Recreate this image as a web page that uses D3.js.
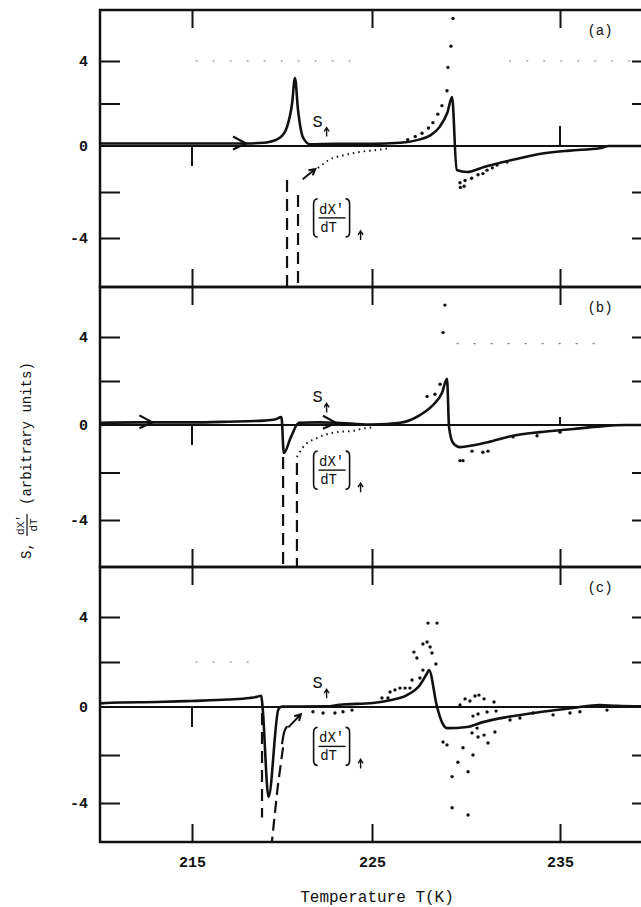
<!DOCTYPE html>
<html>
<head>
<meta charset="utf-8">
<script src="https://cdn.jsdelivr.net/npm/d3@7"></script>
<style>
  body { margin: 0; background: #fff; }
  svg { display: block; }
  text { font-family: "Liberation Mono", "DejaVu Sans Mono", monospace; fill: #111; }
</style>
</head>
<body>
<svg id="chart" width="641" height="907"></svg>
<script>
// Tick values and labels
var xTicks = [215, 225, 235];
var yTicks = [-4, -2, 2, 4];
var yLabels = [4, 0, -4];
var panelNames = ['(a)', '(b)', '(c)'];

// S curves (solid), [T (K), value]
var sA = [[209.5,0.12],[214,0.12],[218,0.12],[219.0,0.15],[219.33,0.2],[219.9,0.4],
          [220.28,0.9],[220.56,2.0],[220.72,3.2],[220.89,1.7],[221.17,0.4],[221.56,0.08],
          [223,0.1],[225,0.1],[226.5,0.15],[227.5,0.3],[228.1,0.5],[228.6,0.9],[229.0,1.55],
          [229.26,2.3],[229.5,-1.04],[230.05,-1.13],[231,-0.9],[232.5,-0.6],[233.9,-0.35],
          [235.5,-0.2],[237.1,-0.1],[237.6,0],[240,0]];
var sB = [[209.5,0.1],[212,0.12],[215,0.12],[217,0.15],[219,0.2],[219.6,0.25],[219.97,0.36],
          [220.1,-1.18],[220.5,-0.5],[220.94,0.1],[222,0.12],[223,0.1],[224,0.05],[225.05,0.02],
          [226.5,0.1],[227.55,0.45],[228.24,0.9],[228.72,1.45],[228.99,2.1],[229.1,-0.1],
          [229.31,-0.75],[229.68,-0.93],[230.4,-0.85],[231.28,-0.7],[232.5,-0.45],[233.94,-0.3],
          [235.7,-0.17],[236.97,-0.07],[238.5,0],[240,0]];
var sC = [[209.6,0.15],[211,0.2],[213,0.22],[215,0.27],[217,0.33],[218.2,0.4],[218.6,0.45],
          [218.85,0.5],[218.92,0.0],[219.25,-3.75],[219.8,-0.1],[220.0,0.02],[221,0.02],
          [222.5,0.03],[223.2,0.1],[225.05,0.18],[225.96,0.3],[226.86,0.53],[227.55,0.98],
          [227.93,1.5],[228.03,1.64],[228.46,0],[228.72,-0.63],[228.99,-0.88],[230.05,-0.83],
          [230.9,-0.63],[232.18,-0.42],[233.94,-0.21],[235.69,-0.04],[237.13,0.09],[238.0,0.05],
          [240,0.02]];

// Arrows sitting on the S curves, [T, value]
var sArrowsA = [[218.0,0.12]];
var sArrowsB = [[212.8,0.12],[223.0,0.1]];
var sArrowsC = [];

// dX'/dT : dashed divergent branches [T, value from, value to]
var dashA = [[220.28,-1.48,-6.5],[220.89,-2.13,-6.5]];
var dashB = [[220.06,-1.35,-6.5],[220.83,-1.6,-6.5]];
var dashC = [[218.89,-0.25,-4.6]];
var slantC = [[219.40,-5.9],[219.75,-3.4],[220.06,-1.67]];

// dX'/dT : dotted continuous parts
var dotLineA = [[222.0,-0.96],[222.6,-0.61],[223.5,-0.39],[224.3,-0.26],[225.3,-0.17],[226.0,-0.09]];
var dotLineB = [[220.83,-1.35],[221.17,-0.93],[221.94,-0.55],[223.06,-0.3],[223.9,-0.25],
                [224.5,-0.15],[225.0,-0.1]];
var hookC = [[220.0,-1.55],[220.12,-0.95],[220.3,-0.8]];

// small arrows on dX'/dT, [T0, v0, T1, v1]
var dArrowsA = [[221.15,-1.45,221.85,-1.0]];
var dArrowsB = [];
var dArrowsC = [[220.35,-0.85,221.05,-0.3]];

// dX'/dT : scattered dots
var dotsA = [[226.9,0.3],[227.3,0.45],[227.66,0.6],[228.0,0.85],[228.24,1.1],[228.5,1.5],
             [228.72,1.9],[228.99,2.6],[229.04,3.7],[229.2,4.7],[229.31,6.0],
             [229.68,-1.6],[229.7,-1.8],[229.9,-1.75],[229.95,-1.5],[230.3,-1.4],[230.64,-1.25],
             [230.9,-1.2],[231.12,-1.05],[231.4,-0.95],[231.65,-0.83],[232.18,-0.7]];
var dotsB = [[227.93,1.3],[228.35,1.4],[228.62,1.85],[228.78,4.2],[228.88,5.45],
             [229.68,-1.5],[229.84,-1.5],[230.32,-1.1],[230.9,-1.15],[231.17,-1.1],
             [232.5,-0.5],[233.78,-0.45],[235.0,-0.3]];
var dotsC = [[221.72,-0.2],[222.28,-0.25],[222.94,-0.25],[223.39,-0.2],[223.89,-0.13],
             [225.53,0.4],[225.85,0.4],[225.96,0.67],[226.22,0.76],[226.49,0.84],[226.76,0.84],
             [227.02,0.84],[227.13,1.2],[227.55,1.29],[227.71,1.64],[227.39,2.18],[227.23,2.44],
             [227.71,2.8],[227.93,2.89],[228.09,2.67],[228.19,2.4],[228.4,1.91],[227.98,3.73],
             [228.46,3.73],
             [229.68,0.09],[229.95,0.36],[230.21,0.27],[230.48,0.49],[230.69,0.53],[230.96,0.36],
             [231.49,0.22],
             [228.78,-1.46],[228.99,-1.58],[229.26,-2.9],[229.57,-2.3],[229.84,-1.7],[230.11,-2.7],
             [229.26,-4.2],[230.11,-4.5],[230.37,-2.0],[230.32,-1.08],[230.59,-0.88],[230.64,-1.25],
             [230.96,-1.17],[231.17,-1.5],[231.54,-1.04],[230.37,-0.38],[230.64,-0.29],
             [231.12,-0.21],[231.6,-0.17],[232.34,-0.54],[232.87,-0.46],[233.56,-0.25],
             [234.63,-0.33],[235.53,-0.25],[236.06,-0.2],[237.5,-0.13]];

// faint dotted remnants in the scan, [T from, T to, value]
var faintA = [[215.2,224.6,4.0],[232.3,239.0,4.0]];
var faintB = [[229.5,237.5,3.7]];
var faintC = [[215.2,218.8,2.0]];

// Panel layout (pixel positions of frame and of the 4 / 0 / -4 levels)
var left = 100, right = 652;
var panels = [
  { name: panelNames[0], top: 10,  bottom: 287, y4: 61,  y0: 146, ym4: 238,
    s: sA, sArrows: sArrowsA, dash: dashA, slant: null, dotLine: dotLineA, hook: null,
    dArrows: dArrowsA, dots: dotsA, faint: faintA, sLabel: [221.7, 1.2], frac: [221.7, -2.3], upTick: 20 },
  { name: panelNames[1], top: 287, bottom: 567, y4: 337, y0: 425, ym4: 520,
    s: sB, sArrows: sArrowsB, dash: dashB, slant: null, dotLine: dotLineB, hook: null,
    dArrows: dArrowsB, dots: dotsB, faint: faintB, sLabel: [221.7, 1.3], frac: [221.7, -1.1], upTick: 8 },
  { name: panelNames[2], top: 567, bottom: 842, y4: 617, y0: 707, ym4: 803,
    s: sC, sArrows: sArrowsC, dash: dashC, slant: slantC, dotLine: null, hook: hookC,
    dArrows: dArrowsC, dots: dotsC, faint: faintC, sLabel: [221.7, 1.1], frac: [221.7, -0.85], upTick: 0 }
];

var svg = d3.select('#chart');
var ink = '#111';

// Temperature scale (the scanned axis is slightly uneven)
var x = d3.scaleLinear().domain(xTicks).range([192, 372, 560]);

// small upward arrow used as subscript
function upArrow(sel, ax, ay) {
  sel.append('path')
     .attr('d', 'M' + ax + ',' + (ay + 9) + 'L' + ax + ',' + ay +
                'M' + (ax - 2.5) + ',' + (ay + 4) + 'L' + ax + ',' + ay + 'L' + (ax + 2.5) + ',' + (ay + 4))
     .attr('fill', 'none').attr('stroke', ink).attr('stroke-width', 1.4);
}

panels.forEach(function(p, i) {
  var y = d3.scaleLinear().domain([-4, 0, 4]).range([p.ym4, p.y0, p.y4]);
  var g = svg.append('g');

  var clipId = 'clip' + i;
  svg.append('clipPath').attr('id', clipId)
     .append('rect').attr('x', left).attr('y', p.top)
     .attr('width', right - left).attr('height', p.bottom - p.top);

  // Ticks: left, right, top, bottom (all pointing inward)
  var yl = d3.axisLeft(y).tickValues(yTicks.concat([0])).tickSizeInner(-20).tickSizeOuter(0)
             .tickPadding(12)
             .tickFormat(function(d) { return yLabels.indexOf(d) != -1 ? d : ''; });
  var gl = g.append('g').attr('transform', 'translate(' + left + ',0)').call(yl);
  gl.selectAll('.tick line').filter(function(d) { return d == 0; }).remove();

  var yr = d3.axisRight(y).tickValues(yTicks).tickSizeInner(-20).tickSizeOuter(0)
             .tickFormat('');
  g.append('g').attr('transform', 'translate(' + right + ',0)').call(yr);

  var xt = d3.axisTop(x).tickValues(xTicks).tickSizeInner(-18).tickSizeOuter(0).tickFormat('');
  g.append('g').attr('transform', 'translate(0,' + p.top + ')').call(xt);

  var xb = d3.axisBottom(x).tickValues(xTicks).tickSizeInner(-18).tickSizeOuter(0)
             .tickPadding(14).tickFormat(i == 2 ? d3.format('d') : '');
  g.append('g').attr('transform', 'translate(0,' + p.bottom + ')').call(xb);

  g.selectAll('.domain').remove();
  g.selectAll('.tick line').attr('stroke', ink).attr('stroke-width', 2);
  g.selectAll('.tick text').attr('font-size', 15).attr('fill', ink).attr('font-weight', 'bold')
   .attr('font-family', '"Liberation Mono", monospace');

  // Frame
  g.append('rect').attr('x', left).attr('y', p.top)
   .attr('width', right - left).attr('height', p.bottom - p.top)
   .attr('fill', 'none').attr('stroke', ink).attr('stroke-width', 2.5);

  // Zero line and its small ticks
  g.append('line').attr('x1', left).attr('x2', right).attr('y1', y(0)).attr('y2', y(0))
   .attr('stroke', ink).attr('stroke-width', 2);
  g.append('line').attr('x1', x(215)).attr('x2', x(215)).attr('y1', y(0)).attr('y2', y(0) + 20)
   .attr('stroke', ink).attr('stroke-width', 2);
  if (p.upTick > 0) {
    g.append('line').attr('x1', x(235)).attr('x2', x(235)).attr('y1', y(0)).attr('y2', y(0) - p.upTick)
     .attr('stroke', ink).attr('stroke-width', 2);
  }

  var plot = g.append('g').attr('clip-path', 'url(#' + clipId + ')');
  var line = d3.line().x(function(d) { return x(d[0]); }).y(function(d) { return y(d[1]); });
  var smooth = d3.line().curve(d3.curveMonotoneX)
                 .x(function(d) { return x(d[0]); }).y(function(d) { return y(d[1]); });

  // Faint dotted remnants
  p.faint.forEach(function(f) {
    plot.append('line').attr('x1', x(f[0])).attr('x2', x(f[1])).attr('y1', y(f[2])).attr('y2', y(f[2]))
        .attr('stroke', '#777').attr('stroke-width', 1.2).attr('stroke-dasharray', '2,15');
  });

  // S curve
  plot.append('path').datum(p.s).attr('d', smooth)
      .attr('fill', 'none').attr('stroke', ink).attr('stroke-width', 2.6)
      .attr('stroke-linejoin', 'round');

  // Arrows on S
  p.sArrows.forEach(function(a) {
    var ax = x(a[0]), ay = y(a[1]);
    plot.append('path')
        .attr('d', 'M' + (ax - 13) + ',' + (ay - 7) + 'L' + ax + ',' + ay + 'L' + (ax - 13) + ',' + (ay + 6))
        .attr('fill', 'none').attr('stroke', ink).attr('stroke-width', 2.2);
  });

  // dX'/dT dashed branches
  p.dash.forEach(function(d) {
    plot.append('line').attr('x1', x(d[0])).attr('x2', x(d[0]))
        .attr('y1', y(d[1])).attr('y2', y(d[2]))
        .attr('stroke', ink).attr('stroke-width', 2.2).attr('stroke-dasharray', '12,7');
  });
  if (p.slant) {
    plot.append('path').datum(p.slant).attr('d', line)
        .attr('fill', 'none').attr('stroke', ink).attr('stroke-width', 2.2)
        .attr('stroke-dasharray', '12,6');
  }
  if (p.hook) {
    plot.append('path').datum(p.hook).attr('d', d3.line().curve(d3.curveBasis)
        .x(function(d) { return x(d[0]); }).y(function(d) { return y(d[1]); }))
        .attr('fill', 'none').attr('stroke', ink).attr('stroke-width', 2.2);
  }
  if (p.dotLine) {
    plot.append('path').datum(p.dotLine).attr('d', smooth)
        .attr('fill', 'none').attr('stroke', ink).attr('stroke-width', 2)
        .attr('stroke-dasharray', '1.5,4');
  }
  p.dArrows.forEach(function(a) {
    var x0 = x(a[0]), y0 = y(a[1]), x1 = x(a[2]), y1 = y(a[3]);
    var ang = Math.atan2(y1 - y0, x1 - x0), h = 7;
    plot.append('path')
        .attr('d', 'M' + x0 + ',' + y0 + 'L' + x1 + ',' + y1 +
                   'M' + (x1 - h * Math.cos(ang - 0.5)) + ',' + (y1 - h * Math.sin(ang - 0.5)) +
                   'L' + x1 + ',' + y1 +
                   'L' + (x1 - h * Math.cos(ang + 0.5)) + ',' + (y1 - h * Math.sin(ang + 0.5)))
        .attr('fill', 'none').attr('stroke', ink).attr('stroke-width', 2);
  });

  // Scattered dX'/dT points
  plot.selectAll('circle.dot').data(p.dots).enter().append('circle')
      .attr('class', 'dot')
      .attr('cx', function(d) { return x(d[0]); })
      .attr('cy', function(d) { return y(d[1]); })
      .attr('r', 1.7).attr('fill', ink);

  // Panel letter
  g.append('text').attr('x', 600).attr('y', p.top + 25).attr('text-anchor', 'middle')
   .attr('font-size', 14).text(p.name);

  // S label
  var sx = x(p.sLabel[0]), sy = y(p.sLabel[1]);
  g.append('text').attr('x', sx).attr('y', sy + 6).attr('font-size', 17).text('S');
  upArrow(g, sx + 14, sy + 7);

  // [dX'/dT] label
  var fx = x(p.frac[0]), fy = y(p.frac[1]);
  var bh = 38, bw = 38;
  var fl = g.append('g').attr('transform', 'translate(' + fx + ',' + fy + ')');
  fl.append('path').attr('d', 'M5,0 Q1,0 1,5 L1,' + (bh - 5) + ' Q1,' + bh + ' 5,' + bh)
    .attr('fill', 'none').attr('stroke', ink).attr('stroke-width', 1.6);
  fl.append('path').attr('d', 'M' + (bw - 5) + ',0 Q' + (bw - 1) + ',0 ' + (bw - 1) + ',5 L' + (bw - 1) + ',' + (bh - 5) +
                              ' Q' + (bw - 1) + ',' + bh + ' ' + (bw - 5) + ',' + bh)
    .attr('fill', 'none').attr('stroke', ink).attr('stroke-width', 1.6);
  fl.append('text').attr('x', bw / 2).attr('y', 15).attr('text-anchor', 'middle')
    .attr('font-size', 14).text("dX'");
  fl.append('line').attr('x1', 6).attr('x2', bw - 5).attr('y1', 19).attr('y2', 19)
    .attr('stroke', ink).attr('stroke-width', 1.4);
  fl.append('text').attr('x', bw / 2 - 3).attr('y', 33).attr('text-anchor', 'middle')
    .attr('font-size', 14).text('dT');
  upArrow(fl, bw + 10, bh - 6);
});

// Axis titles
svg.append('text').attr('x', 377).attr('y', 902).attr('text-anchor', 'middle')
   .attr('font-size', 16).text('Temperature T(K)');

var yt = svg.append('g').attr('transform', 'translate(26,447) rotate(-90)');
yt.append('text').attr('x', -112).attr('y', 5).attr('font-size', 14).text('S,');
yt.append('text').attr('x', -78).attr('y', -2).attr('text-anchor', 'middle')
  .attr('font-size', 11).text("dX'");
yt.append('line').attr('x1', -89).attr('x2', -67).attr('y1', 1).attr('y2', 1)
  .attr('stroke', ink).attr('stroke-width', 1.2);
yt.append('text').attr('x', -78).attr('y', 11).attr('text-anchor', 'middle')
  .attr('font-size', 11).text('dT');
yt.append('text').attr('x', -58).attr('y', 5).attr('font-size', 14).text('(arbitrary units)');
</script>
</body>
</html>
